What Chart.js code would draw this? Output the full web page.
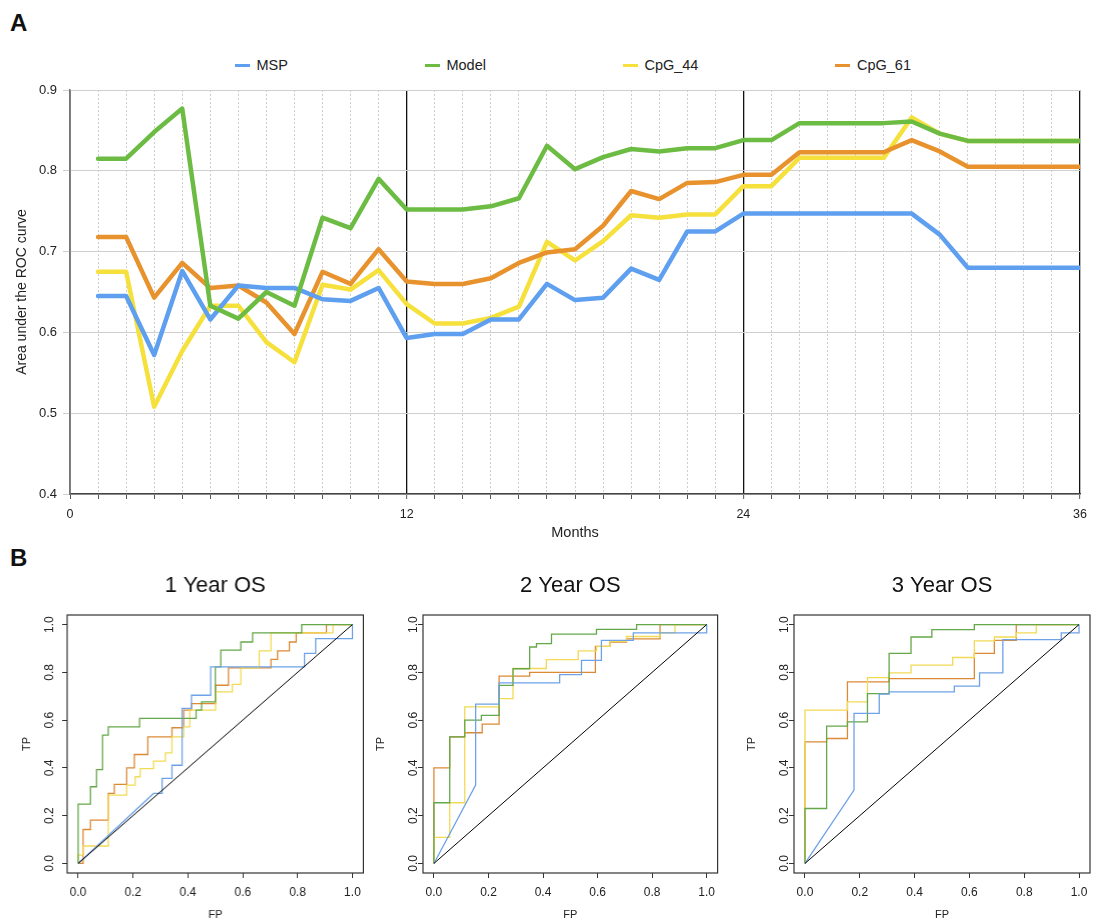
<!DOCTYPE html>
<html>
<head>
<meta charset="utf-8">
<script src="https://cdn.jsdelivr.net/npm/chart.js@4.4.1/dist/chart.umd.min.js"></script>
<style>
  html, body { margin: 0; padding: 0; background: #fff; overflow: hidden; }
  body { width: 1095px; height: 924px; position: relative;
         font-family: 'Liberation Sans', Arial, Helvetica, sans-serif; color: #111; }
  .frame { position: absolute; }
  .letter { position: absolute; font-weight: bold; font-size: 24px; line-height: 24px; }
  #legend { position: absolute; left: 235px; top: 56px; display: flex; gap: 137px;
            font-size: 14.5px; line-height: 18px; color: #222; }
  #legend .item { display: flex; align-items: center; white-space: nowrap; }
  #legend .swatch { width: 15px; height: 3px; margin-right: 6.5px; }
</style>
</head>
<body>
<div class="letter" style="left:10px;top:11px">A</div>
<div class="letter" style="left:10px;top:546px">B</div>
<div id="legend"></div>
<div class="frame" style="left:0;top:0;width:1095px;height:545px"><canvas id="auc"></canvas></div>
<div class="frame" style="left:0.3px;top:560px;width:370.4px;height:364px"><canvas id="roc1"></canvas></div>
<div class="frame" style="left:355.7px;top:560px;width:369.6px;height:364px"><canvas id="roc2"></canvas></div>
<div class="frame" style="left:727px;top:560px;width:368px;height:364px"><canvas id="roc3"></canvas></div>

<script>
// ---------- Panel A: time-dependent AUC ----------
const months = [1, 2, 3, 4, 5, 6, 7, 8, 9, 10, 11, 12, 13, 14, 15, 16, 17, 18,
                19, 20, 21, 22, 23, 24, 25, 26, 27, 28, 29, 30, 31, 32, 33, 34, 35, 36];
const aucMSP = [0.645, 0.645, 0.572, 0.676, 0.616, 0.658, 0.655, 0.655, 0.641, 0.639, 0.655, 0.593,
                0.598, 0.598, 0.616, 0.616, 0.660, 0.640, 0.643, 0.679, 0.665, 0.725, 0.725, 0.747,
                0.747, 0.747, 0.747, 0.747, 0.747, 0.747, 0.721, 0.680, 0.680, 0.680, 0.680, 0.680];
const aucModel = [0.815, 0.815, 0.848, 0.877, 0.633, 0.617, 0.650, 0.633, 0.742, 0.729, 0.790, 0.752,
                  0.752, 0.752, 0.756, 0.766, 0.831, 0.802, 0.817, 0.827, 0.824, 0.828, 0.828, 0.838,
                  0.838, 0.859, 0.859, 0.859, 0.859, 0.861, 0.846, 0.837, 0.837, 0.837, 0.837, 0.837];
const aucCpG44 = [0.675, 0.675, 0.508, 0.577, 0.633, 0.633, 0.588, 0.563, 0.659, 0.653, 0.677, 0.635,
                  0.611, 0.611, 0.618, 0.632, 0.712, 0.689, 0.713, 0.745, 0.742, 0.746, 0.746, 0.781,
                  0.781, 0.816, 0.816, 0.816, 0.816, 0.866, 0.846, 0.837, 0.837, 0.837, 0.837, 0.837];
const aucCpG61 = [0.718, 0.718, 0.643, 0.686, 0.655, 0.658, 0.637, 0.598, 0.675, 0.660, 0.703, 0.663,
                  0.660, 0.660, 0.667, 0.686, 0.699, 0.703, 0.732, 0.775, 0.765, 0.785, 0.786, 0.795,
                  0.795, 0.823, 0.823, 0.823, 0.823, 0.838, 0.824, 0.805, 0.805, 0.805, 0.805, 0.805];
const monthTicks = [0, 1, 2, 3, 4, 5, 6, 7, 8, 9, 10, 11, 12, 13, 14, 15, 16, 17, 18,
                    19, 20, 21, 22, 23, 24, 25, 26, 27, 28, 29, 30, 31, 32, 33, 34, 35, 36];
const monthLabels = [0, 12, 24, 36];
const aucTicks = [0.4, 0.5, 0.6, 0.7, 0.8, 0.9];

// ---------- Panel B: ROC curves (FP / TP corner points) ----------
// 1 year
const roc1MSPfp   = [0, 0.275, 0.306, 0.306, 0.342, 0.342, 0.379, 0.379, 0.413, 0.413, 0.483, 0.483, 0.825, 0.825, 0.866, 0.866, 1, 1];
const roc1MSPtp   = [0, 0.293, 0.293, 0.356, 0.356, 0.411, 0.411, 0.649, 0.649, 0.704, 0.704, 0.823, 0.823, 0.879, 0.879, 0.941, 0.941, 1];
const roc1Modelfp = [0, 0, 0.045, 0.067, 0.089, 0.110, 0.224, 0.430, 0.450, 0.500, 0.520, 0.593, 0.636, 0.815, 1];
const roc1Modeltp = [0, 0.248, 0.321, 0.393, 0.537, 0.572, 0.607, 0.642, 0.676, 0.823, 0.893, 0.927, 0.965, 1, 1];
const roc1C44fp   = [0, 0, 0.018, 0.110, 0.177, 0.208, 0.226, 0.275, 0.318, 0.342, 0.385, 0.407, 0.501, 0.562, 0.593, 0.660, 0.703, 0.929, 1];
const roc1C44tp   = [0, 0.035, 0.073, 0.286, 0.328, 0.363, 0.397, 0.428, 0.463, 0.530, 0.572, 0.642, 0.718, 0.750, 0.819, 0.890, 0.965, 1, 1];
const roc1C61fp   = [0, 0.018, 0.045, 0.110, 0.132, 0.177, 0.205, 0.254, 0.342, 0.385, 0.413, 0.501, 0.548, 0.703, 0.727, 0.770, 0.795, 0.905, 1];
const roc1C61tp   = [0, 0.142, 0.181, 0.293, 0.331, 0.400, 0.456, 0.530, 0.568, 0.642, 0.669, 0.746, 0.819, 0.854, 0.890, 0.927, 0.965, 1, 1];
// 2 years
const roc2MSPfp   = [0, 0.153, 0.153, 0.239, 0.239, 0.461, 0.461, 0.541, 0.541, 0.614, 0.614, 0.731, 0.731, 1, 1];
const roc2MSPtp   = [0, 0.328, 0.667, 0.667, 0.756, 0.756, 0.790, 0.790, 0.850, 0.850, 0.934, 0.934, 0.965, 0.965, 1];
const roc2Modelfp = [0, 0, 0.058, 0.113, 0.174, 0.239, 0.290, 0.351, 0.376, 0.431, 0.596, 0.743, 1];
const roc2Modeltp = [0, 0.254, 0.530, 0.600, 0.620, 0.745, 0.815, 0.906, 0.920, 0.960, 0.980, 1, 1];
const roc2C44fp   = [0, 0, 0.058, 0.113, 0.239, 0.290, 0.412, 0.529, 0.596, 0.645, 0.706, 0.829, 0.884, 1];
const roc2C44tp   = [0, 0.109, 0.254, 0.655, 0.690, 0.816, 0.853, 0.890, 0.909, 0.930, 0.950, 0.965, 1, 1];
const roc2C61fp   = [0, 0, 0.058, 0.113, 0.177, 0.239, 0.351, 0.592, 0.645, 0.706, 0.829, 1];
const roc2C61tp   = [0, 0.400, 0.530, 0.547, 0.583, 0.784, 0.800, 0.909, 0.927, 0.940, 1, 1];
// 3 years
const roc3MSPfp   = [0, 0.179, 0.179, 0.271, 0.271, 0.307, 0.307, 0.545, 0.545, 0.637, 0.637, 0.722, 0.722, 0.935, 0.935, 1, 1];
const roc3MSPtp   = [0, 0.307, 0.628, 0.628, 0.709, 0.709, 0.718, 0.718, 0.742, 0.742, 0.798, 0.798, 0.937, 0.937, 0.965, 0.965, 1];
const roc3Modelfp = [0, 0, 0.079, 0.155, 0.228, 0.307, 0.387, 0.463, 0.618, 1];
const roc3Modeltp = [0, 0.230, 0.575, 0.593, 0.711, 0.879, 0.948, 0.979, 1, 1];
const roc3C44fp   = [0, 0, 0.155, 0.228, 0.307, 0.387, 0.539, 0.618, 0.691, 0.771, 0.844, 1];
const roc3C44tp   = [0, 0.642, 0.676, 0.778, 0.798, 0.830, 0.862, 0.932, 0.948, 0.965, 1, 1];
const roc3C61fp   = [0, 0, 0.079, 0.155, 0.307, 0.618, 0.691, 0.771, 1];
const roc3C61tp   = [0, 0.509, 0.523, 0.760, 0.774, 0.879, 0.934, 1, 1];
const chanceFP = [0, 1];
const chanceTP = [0, 1];
const rocTicks = [0, 0.2, 0.4, 0.6, 0.8, 1.0];

const seriesNames = ['MSP', 'Model', 'CpG_44', 'CpG_61'];
const lineColors = { MSP: '#5e9ff0', Model: '#6cbc44', CpG_44: '#f6e03c', CpG_61: '#e8922e' };
const rocColors  = { MSP: '#6ea2e6', Model: '#64a84a', CpG_44: '#f2da55', CpG_61: '#dc8a36' };

Chart.defaults.font.family = "'Liberation Sans', Arial, Helvetica, sans-serif";
Chart.defaults.color = '#222';

const xy = (xs, ys) => xs.map((x, i) => ({ x: x, y: ys[i] }));

// ---------- Panel A chart ----------
const aucSeries = { MSP: aucMSP, Model: aucModel, CpG_44: aucCpG44, CpG_61: aucCpG61 };
const drawOrder = { Model: 0, MSP: 1, CpG_61: 2, CpG_44: 3 };

const aucChart = new Chart(document.getElementById('auc'), {
  type: 'line',
  data: {
    datasets: seriesNames.map(n => ({
      label: n,
      data: xy(months, aucSeries[n]),
      borderColor: lineColors[n],
      backgroundColor: lineColors[n],
      order: drawOrder[n]
    }))
  },
  options: {
    responsive: true, maintainAspectRatio: false, animation: false,
    layout: { padding: { top: 90, right: 7, left: 0, bottom: 0 } },
    plugins: { legend: { display: false }, tooltip: { enabled: false } },
    elements: {
      point: { radius: 0 },
      line: { borderWidth: 4.5, tension: 0, borderJoinStyle: 'round', borderCapStyle: 'round' }
    },
    scales: {
      x: {
        type: 'linear', min: 0, max: 36,
        afterBuildTicks: s => { s.ticks = monthTicks.map(v => ({ value: v })); },
        afterFit: s => { s.height = 51; },
        ticks: {
          autoSkip: false, maxRotation: 0, minRotation: 0, padding: 8,
          font: { size: 12.5 }, color: '#222',
          callback: v => monthLabels.includes(v) ? String(v) : ''
        },
        grid: {
          color: c => {
            const v = c.tick ? c.tick.value : -1;
            if (v === 0) return '#888';
            return v % 12 === 0 ? '#111' : '#cdcdcd';
          },
          lineWidth: c => (c.tick && c.tick.value % 12 === 0 && c.tick.value > 0) ? 1.3 : 1,
          tickColor: '#555', tickLength: 5, tickBorderDash: [], tickWidth: 1
        },
        border: {
          display: true, color: '#444', width: 1.5,
          dash: c => (c.tick && c.tick.value % 12 !== 0) ? [2, 2] : []
        },
        title: { display: true, text: 'Months', font: { size: 14.5 }, color: '#222', padding: { top: 0, bottom: 3.3 } }
      },
      y: {
        min: 0.4, max: 0.9,
        afterBuildTicks: s => { s.ticks = aucTicks.map(v => ({ value: v })); },
        afterFit: s => { s.width = 70; },
        ticks: { callback: v => v.toFixed(1), font: { size: 13 }, color: '#222', padding: 6 },
        grid: { color: '#cfcfcf', lineWidth: 1, tickLength: 7, tickColor: '#cfcfcf' },
        border: { display: true, color: '#777', width: 1.5 },
        title: { display: true, text: 'Area under the ROC curve', font: { size: 14 }, color: '#222', padding: { top: 13.6, bottom: 0 } }
      }
    }
  }
});

// Legend for panel A, built from the chart's datasets
(function buildLegend(chart) {
  const box = document.getElementById('legend');
  chart.data.datasets.forEach(ds => {
    const item = document.createElement('div');
    item.className = 'item';
    const sw = document.createElement('span');
    sw.className = 'swatch';
    sw.style.background = ds.borderColor;
    const tx = document.createElement('span');
    tx.textContent = ds.label;
    item.appendChild(sw);
    item.appendChild(tx);
    box.appendChild(item);
  });
})(aucChart);

// ---------- Panel B charts ----------
const plotFrame = {
  id: 'plotFrame',
  afterDraw(chart) {
    const { ctx, chartArea: a } = chart;
    ctx.save();
    ctx.strokeStyle = '#333';
    ctx.lineWidth = 1.2;
    ctx.strokeRect(a.left, a.top, a.right - a.left, a.bottom - a.top);
    ctx.restore();
  }
};

function rocChart(id, titleText, curves, padRight, tpPad, yTickPad) {
  const datasets = [{
    label: 'chance', data: xy(chanceFP, chanceTP), borderColor: '#000', borderWidth: 1, stepped: false
  }];
  seriesNames.forEach(n => {
    datasets.push({
      label: n,
      data: xy(curves[n][0], curves[n][1]),
      borderColor: rocColors[n],
      borderWidth: 1.3,
      // run right first, then climb: each corner point closes a horizontal-then-vertical step
      stepped: n === 'MSP' ? false : 'before'
    });
  });
  return new Chart(document.getElementById(id), {
    type: 'line',
    data: { datasets },
    options: {
      responsive: true, maintainAspectRatio: false, animation: false,
      layout: { padding: { top: 0, right: padRight, left: 0, bottom: 0 } },
      plugins: {
        legend: { display: false }, tooltip: { enabled: false },
        title: {
          display: true, text: titleText, fullSize: false,
          font: { size: 22, weight: 'normal' }, color: '#111',
          padding: { top: 12.8, bottom: 15.8 }
        }
      },
      elements: { point: { radius: 0 }, line: { tension: 0 } },
      scales: {
        x: {
          type: 'linear', min: -0.04, max: 1.04,
          afterBuildTicks: s => { s.ticks = rocTicks.map(v => ({ value: v })); },
          afterFit: s => { s.height = 51; },
          ticks: { callback: v => v.toFixed(1), font: { size: 12 }, color: '#222', padding: 7, maxRotation: 0, autoSkip: false },
          grid: { display: true, drawOnChartArea: false, drawTicks: true, tickLength: 5, tickColor: '#333' },
          border: { display: false },
          title: { display: true, text: 'FP', font: { size: 11 }, color: '#222', padding: { top: 0, bottom: 2.4 } }
        },
        y: {
          min: -0.04, max: 1.04,
          afterBuildTicks: s => { s.ticks = rocTicks.map(v => ({ value: v })); },
          afterFit: s => { s.width = 67; },
          ticks: {
            callback: v => v.toFixed(1), font: { size: 12 }, color: '#222',
            minRotation: 90, maxRotation: 90, crossAlign: 'center', padding: yTickPad, autoSkip: false
          },
          grid: { display: true, drawOnChartArea: false, drawTicks: true, tickLength: 5, tickColor: '#333' },
          border: { display: false },
          title: { display: true, text: 'TP', font: { size: 11 }, color: '#222', padding: { top: tpPad, bottom: 0 } }
        }
      }
    },
    plugins: [plotFrame]
  });
}

rocChart('roc1', '1 Year OS', {
  MSP: [roc1MSPfp, roc1MSPtp], Model: [roc1Modelfp, roc1Modeltp],
  CpG_44: [roc1C44fp, roc1C44tp], CpG_61: [roc1C61fp, roc1C61tp]
}, 8, 20.4, 3.5);
rocChart('roc2', '2 Year OS', {
  MSP: [roc2MSPfp, roc2MSPtp], Model: [roc2Modelfp, roc2Modeltp],
  CpG_44: [roc2C44fp, roc2C44tp], CpG_61: [roc2C61fp, roc2C61tp]
}, 8, 18, -3.8);
rocChart('roc3', '3 Year OS', {
  MSP: [roc3MSPfp, roc3MSPtp], Model: [roc3Modelfp, roc3Modeltp],
  CpG_44: [roc3C44fp, roc3C44tp], CpG_61: [roc3C61fp, roc3C61tp]
}, 5, 18.7, -3.8);
</script>
</body>
</html>
